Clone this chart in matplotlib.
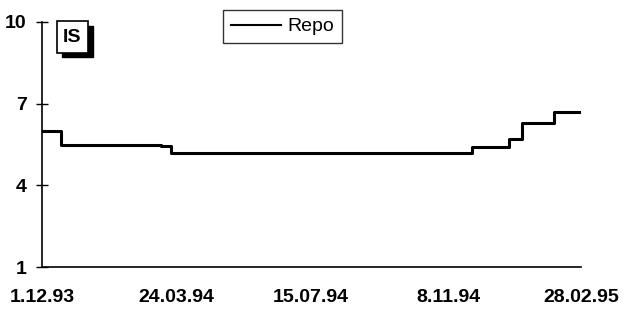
import pandas as pd
import numpy as np
import matplotlib
matplotlib.use('Agg')
import matplotlib.pyplot as plt
from matplotlib.patches import Rectangle

plt.rcParams['font.family'] = ['Liberation Sans', 'DejaVu Sans']

# Repo rate, step changes (date of change, new level)
change_dates = ['1993-12-01', '1993-12-17', '1994-03-11', '1994-03-20',
                '1994-11-28', '1994-12-29', '1995-01-09', '1995-02-05', '1995-02-28']
repo = [6.0, 5.5, 5.45, 5.2, 5.4, 5.7, 6.3, 6.7, 6.7]

tick_dates = ['1993-12-01', '1994-03-24', '1994-07-15', '1994-11-08', '1995-02-28']
tick_labels = ['1.12.93', '24.03.94', '15.07.94', '8.11.94', '28.02.95']
y_ticks = [1, 4, 7, 10]

dates = pd.to_datetime(change_dates)
ticks = pd.to_datetime(tick_dates)

fig = plt.figure(figsize=(6.24, 3.12), dpi=100)
ax = fig.add_axes([0.0673, 0.1442, 0.8637, 0.7853])

ax.step(dates, repo, where='post', color='black', lw=2.2, label='Repo')

ax.set_xlim(ticks[0], ticks[-1])
ax.set_ylim(1, 10)
ax.set_yticks(y_ticks)
ax.set_xticks(ticks)
ax.set_xticklabels(tick_labels)
ax.tick_params(axis='y', direction='inout', length=8, width=1,
               labelsize=14, pad=7)
ax.tick_params(axis='x', length=0, labelsize=14, pad=16)
for lab in ax.get_xticklabels() + ax.get_yticklabels():
    lab.set_fontweight('bold')

for s in ['top', 'right']:
    ax.spines[s].set_visible(False)
ax.spines['left'].set_linewidth(1.2)
ax.spines['bottom'].set_linewidth(1.2)

leg = ax.legend(loc='upper left', bbox_to_anchor=(223 / 624, 1 - 10 / 312),
                bbox_transform=fig.transFigure, borderaxespad=0,
                frameon=True, fancybox=False, edgecolor='black', fontsize=14,
                handlelength=2.6, handletextpad=0.3, borderpad=0.4)
leg.get_frame().set_linewidth(1.0)
for l in leg.get_lines():
    l.set_linewidth(1.5)

# "IS" label box with drop shadow
fig.patches.append(Rectangle((62 / 624, 1 - 57 / 312), 31 / 624, 31 / 312,
                             transform=fig.transFigure, color='black', zorder=5))
fig.patches.append(Rectangle((57 / 624, 1 - 53 / 312), 31 / 624, 32 / 312,
                             transform=fig.transFigure, facecolor='white',
                             edgecolor='black', lw=1.2, zorder=6))
fig.text(72.5 / 624, 1 - 37 / 312, 'IS', ha='center', va='center',
         fontsize=14, fontweight='bold', zorder=7)

fig.savefig('out.png', dpi=100)
